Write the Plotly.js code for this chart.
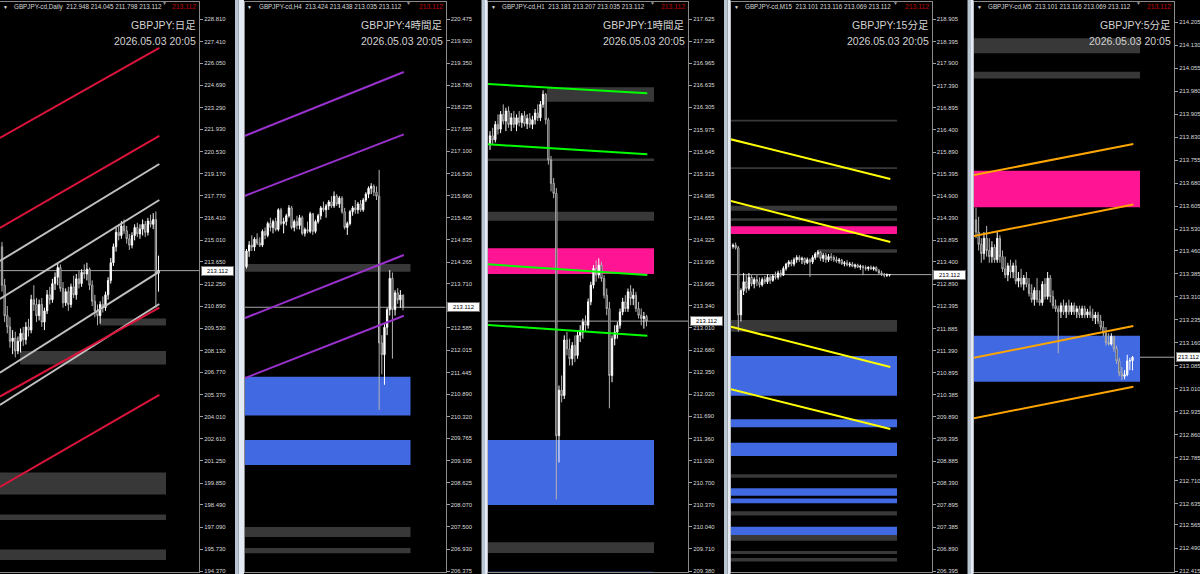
<!DOCTYPE html>
<html><head><meta charset="utf-8">
<script src="https://cdn.plot.ly/plotly-3.0.1.min.js"></script>
<style>html,body{margin:0;padding:0;background:#000;}#chart{width:1200px;height:574px;}</style>
</head><body><div id="chart"></div>
<script>
// ---------------- DATA ----------------
const tfHeader = ['GBPJPY-cd,Daily','GBPJPY-cd,H4','GBPJPY-cd,H1','GBPJPY-cd,M15','GBPJPY-cd,M5'];
const tfTitle = ['GBPJPY:日足','GBPJPY:4時間足','GBPJPY:1時間足','GBPJPY:15分足','GBPJPY:5分足'];
const timestamp = '2026.05.03 20:05';
const bidPrice = 213.112;
const lastOHLC = [[212.948,214.045,211.798,213.112],[213.424,213.438,213.035,213.112],[213.181,213.207,213.035,213.112],[213.101,213.116,213.069,213.112],[213.101,213.116,213.069,213.112]];

const p1Ticks = [228.810,227.410,226.050,224.690,223.290,221.930,220.530,219.170,217.770,216.410,215.010,213.650,212.250,210.890,209.530,208.130,206.770,205.370,204.010,202.610,201.250,199.850,198.490,197.090,195.730,194.370];
const p2Ticks = [220.475,219.920,219.350,218.780,218.225,217.655,217.100,216.530,215.960,215.405,214.835,214.265,213.710,212.585,212.015,211.445,210.890,210.320,209.765,209.195,208.625,208.070,207.500,206.930,206.375];
const p3Ticks = [217.625,217.295,216.965,216.635,216.305,215.975,215.645,215.315,214.985,214.655,214.325,213.995,213.665,213.340,213.010,212.680,212.350,212.020,211.690,211.360,211.030,210.700,210.370,210.040,209.710,209.380];
const p4Ticks = [218.905,218.395,217.900,217.390,216.895,216.400,215.890,215.395,214.900,214.390,213.895,213.400,212.890,212.395,211.885,211.390,210.895,210.385,209.890,209.395,208.885,208.390,207.895,207.385,206.890,206.395];
const p5Ticks = [214.205,214.130,214.055,213.980,213.905,213.830,213.755,213.680,213.605,213.530,213.460,213.385,213.310,213.235,213.160,213.085,213.010,212.935,212.860,212.785,212.710,212.635,212.565,212.490,212.415];

// Panel 1 (Daily)
const p1Open = [214.6,212.2,210.3,209.6,208.7,208.9,208.1,208.7,209.2,208.8,209.6,209.4,211.3,211.0,210.3,211.0,209.9,210.6,211.6,211.3,212.3,212.7,213.3,212.0,211.1,211.8,211.0,212.1,211.6,212.6,212.3,213.0,212.9,213.2,212.2,211.2,210.6,210.3,211.0,210.8,211.6,212.5,213.6,214.6,215.5,215.3,215.9,215.6,215.1,214.7,215.3,215.8,215.4,215.7,216.0,215.5,216.2,216.0,216.3,212.948];
const p1High = [214.9,212.6,210.9,210.2,209.4,209.3,209.0,209.5,209.6,209.9,210.1,211.6,212.2,211.4,211.3,211.4,210.8,211.9,212.1,212.6,213.0,213.6,213.5,212.4,212.0,212.1,212.3,212.8,212.9,213.1,213.2,213.5,213.6,213.3,212.5,211.6,211.0,211.2,211.5,211.8,212.7,213.9,214.8,215.8,216.0,216.2,216.3,215.9,215.4,215.5,216.0,216.1,216.0,216.3,216.2,216.4,216.6,216.7,216.8,214.045];
const p1Low = [211.8,209.9,209.2,208.3,207.9,207.7,207.9,208.0,208.4,208.5,209.0,209.2,210.6,209.9,210.0,209.6,209.4,210.4,211.0,211.1,211.9,212.2,211.8,210.8,210.9,210.6,210.8,211.4,211.3,212.0,212.1,212.6,212.5,211.9,210.9,210.2,209.7,209.8,210.5,210.6,211.3,212.3,213.4,214.3,215.0,215.1,215.4,214.8,214.4,214.5,215.0,215.2,215.1,215.3,215.2,215.3,215.8,215.7,210.8,211.798];
const p1Close = [212.2,210.3,209.6,208.7,208.9,208.1,208.7,209.2,208.8,209.6,209.4,211.3,211.0,210.3,211.0,209.9,210.6,211.6,211.3,212.3,212.7,213.3,212.0,211.1,211.8,211.0,212.1,211.6,212.6,212.3,213.0,212.9,213.2,212.2,211.2,210.6,210.3,211.0,210.8,211.6,212.5,213.6,214.6,215.5,215.3,215.9,215.6,215.1,214.7,215.3,215.8,215.4,215.7,216.0,215.5,216.2,216.0,216.3,212.95,213.112];

// Panel 2 (H4)
const p2Open = [214.15,214.55,214.7,214.65,214.85,214.75,214.7,215.05,214.95,215.25,215.15,215.3,215.1,215.6,215.25,215.3,215.45,215.65,215.15,215.3,215.2,215.4,215.0,215.1,215.05,215.5,215.05,215.3,215.45,215.65,215.6,215.7,215.8,215.7,215.95,215.75,215.9,215.55,215.15,215.25,215.55,215.65,215.6,215.75,215.6,215.85,216.0,216.15,216.2,216.05,215.95,212.2,211.9,212.6,213.05,213.85,213.05,213.48,213.3,213.424];
const p2High = [214.6,214.8,214.95,214.9,215.0,214.9,215.1,215.15,215.3,215.4,215.35,215.4,215.64,215.65,215.4,215.5,215.72,215.7,215.35,215.45,215.47,215.45,215.15,215.3,215.55,215.52,215.35,215.5,215.7,215.81,215.75,215.85,215.95,216.07,216.0,215.95,215.95,215.65,215.3,215.6,215.7,215.85,215.8,215.85,215.9,216.05,216.2,216.28,216.25,216.2,216.62,212.4,212.7,213.1,214.06,214.0,213.55,213.6,213.55,213.438];
const p2Low = [214.1,214.4,214.55,214.55,214.7,214.65,214.65,214.85,214.9,215.05,215.0,215.05,215.05,215.2,215.0,215.2,215.4,215.1,215.05,215.1,215.1,214.95,214.92,215.0,215.0,214.96,215.0,215.25,215.35,215.55,215.4,215.6,215.65,215.65,215.7,215.65,215.5,215.1,214.96,215.2,215.45,215.5,215.5,215.55,215.55,215.8,215.9,216.0,215.95,215.85,210.49,211.4,211.13,212.4,212.9,211.8,212.9,213.2,213.1,213.035];
const p2Close = [214.55,214.7,214.65,214.85,214.75,214.7,215.05,214.95,215.25,215.15,215.3,215.1,215.6,215.25,215.3,215.45,215.65,215.15,215.3,215.2,215.4,215.0,215.1,215.05,215.5,215.05,215.3,215.45,215.65,215.6,215.7,215.8,215.7,215.95,215.75,215.9,215.55,215.15,215.25,215.55,215.65,215.6,215.75,215.6,215.85,216.0,216.15,216.2,216.05,215.95,212.2,211.9,212.6,213.05,213.85,213.05,213.48,213.3,213.424,213.112];

// Panel 3 (H1)
const p3Open = [215.75,215.88,215.82,216.05,215.98,216.2,216.1,216.25,216.05,216.15,216.05,216.15,216.08,216.18,216.06,216.14,216.05,216.12,216.22,216.15,216.35,216.5,216.12,215.52,215.17,215.02,211.4,212.08,212.0,212.83,212.7,212.55,212.75,212.6,212.9,212.95,213.1,213.05,213.4,213.65,213.9,213.8,213.95,213.75,213.5,213.3,212.3,212.85,212.95,213.05,213.25,213.4,213.3,213.55,213.45,213.5,213.3,213.2,213.15,213.181];
const p3High = [215.95,216.0,216.1,216.2,216.25,216.35,216.3,216.32,216.22,216.25,216.2,216.25,216.22,216.25,216.2,216.22,216.18,216.28,216.35,216.4,216.56,216.52,216.15,215.58,215.25,215.1,212.15,212.3,212.9,212.95,212.85,212.8,212.9,212.95,213.05,213.15,213.2,213.45,213.7,213.95,214.02,214.05,214.0,213.8,213.6,213.4,212.9,213.05,213.1,213.3,213.46,213.5,213.6,213.65,213.6,213.55,213.4,213.3,213.25,213.207];
const p3Low = [215.67,215.75,215.78,215.9,215.92,216.05,215.95,216.0,215.95,216.0,215.95,216.02,216.0,216.02,215.98,216.0,215.98,216.05,216.1,216.1,216.3,216.05,215.45,215.05,214.95,210.45,211.0,211.9,211.95,212.6,212.45,212.45,212.5,212.55,212.8,212.85,212.95,213.0,213.35,213.6,213.7,213.75,213.7,213.45,213.2,211.81,212.2,212.75,212.85,213.0,213.2,213.25,213.25,213.35,213.35,213.25,213.15,213.05,213.0,213.035];
const p3Close = [215.88,215.82,216.05,215.98,216.2,216.1,216.25,216.05,216.15,216.05,216.15,216.08,216.18,216.06,216.14,216.05,216.12,216.22,216.15,216.35,216.5,216.12,215.52,215.17,215.02,211.4,212.08,212.0,212.83,212.7,212.55,212.75,212.6,212.9,212.95,213.1,213.05,213.4,213.65,213.9,213.8,213.95,213.75,213.5,213.3,212.3,212.85,212.95,213.05,213.25,213.4,213.3,213.55,213.45,213.5,213.3,213.2,213.15,213.181,213.112];

// Panel 4 (M15)
const p4Open = [213.75,213.78,213.72,212.2,212.75,212.95,212.8,213.05,212.9,213.0,212.95,212.88,213.0,212.95,213.05,212.98,213.08,213.05,213.15,213.1,213.25,213.35,213.4,213.35,213.45,213.5,213.45,213.48,213.38,213.45,213.4,213.5,213.58,213.62,213.48,213.55,213.45,213.52,213.5,213.45,213.42,213.44,213.36,213.38,213.33,213.35,213.3,213.33,213.28,213.3,213.27,213.25,213.28,213.24,213.27,213.2,213.15,213.12,213.1,213.101];
const p4High = [213.82,213.84,213.76,212.8,213.15,213.1,213.15,213.1,213.05,213.1,213.05,213.05,213.08,213.12,213.1,213.12,213.18,213.2,213.22,213.3,213.38,213.44,213.45,213.5,213.55,213.55,213.52,213.5,213.5,213.48,213.55,213.62,213.67,213.65,213.6,213.6,213.58,213.6,213.55,213.52,213.49,213.47,213.42,213.44,213.4,213.4,213.36,213.36,213.34,213.33,213.32,213.3,213.32,213.3,213.3,213.24,213.2,213.15,213.14,213.116];
const p4Low = [213.7,213.68,211.82,212.05,212.65,212.7,212.75,212.85,212.8,212.85,212.82,212.84,212.9,212.9,212.9,212.95,213.0,213.0,213.05,213.08,213.2,213.28,213.3,213.3,213.38,213.4,213.35,213.33,213.35,213.06,213.35,213.45,213.5,213.42,213.4,213.38,213.4,213.42,213.4,213.38,213.36,213.33,213.3,213.3,213.28,213.28,213.25,213.26,213.22,213.1,213.2,213.2,213.22,213.2,213.18,213.12,213.08,213.05,213.06,213.069];
const p4Close = [213.78,213.72,212.2,212.75,212.95,212.8,213.05,212.9,213.0,212.95,212.88,213.0,212.95,213.05,212.98,213.08,213.05,213.15,213.1,213.25,213.35,213.4,213.35,213.45,213.5,213.45,213.48,213.38,213.45,213.4,213.5,213.58,213.62,213.48,213.55,213.45,213.52,213.5,213.45,213.42,213.44,213.36,213.38,213.33,213.35,213.3,213.33,213.28,213.3,213.27,213.25,213.28,213.24,213.27,213.2,213.15,213.12,213.1,213.101,213.112];

// Panel 5 (M5)
const p5Open = [213.56,213.52,213.48,213.45,213.50,213.46,213.44,213.47,213.43,213.50,213.44,213.40,213.38,213.41,213.39,213.41,213.36,213.37,213.35,213.37,213.35,213.32,213.30,213.33,213.30,213.29,213.35,213.31,213.37,213.31,213.28,213.27,213.26,213.28,213.26,213.28,213.26,213.28,213.26,213.27,213.25,213.27,213.25,213.26,213.25,213.24,213.25,213.23,213.21,213.19,213.16,213.155,213.18,213.14,213.10,213.06,213.05,213.055,213.10,213.101];
const p5High = [213.60,213.57,213.50,213.52,213.54,213.50,213.49,213.48,213.52,213.51,213.46,213.44,213.42,213.43,213.42,213.43,213.39,213.40,213.38,213.39,213.37,213.35,213.34,213.37,213.33,213.36,213.37,213.39,213.38,213.33,213.30,213.28,213.29,213.30,213.29,213.30,213.29,213.29,213.28,213.28,213.28,213.28,213.27,213.28,213.27,213.26,213.26,213.25,213.23,213.21,213.19,213.19,213.18,213.15,213.11,213.08,213.07,213.12,213.11,213.116];
const p5Low = [213.50,213.46,213.42,213.43,213.44,213.42,213.42,213.42,213.42,213.42,213.39,213.37,213.36,213.37,213.37,213.35,213.34,213.34,213.33,213.34,213.31,213.29,213.28,213.29,213.28,213.28,213.30,213.30,213.29,213.27,213.26,213.125,213.24,213.25,213.24,213.25,213.25,213.25,213.24,213.24,213.24,213.24,213.24,213.24,213.23,213.22,213.22,213.20,213.18,213.15,213.15,213.15,213.13,213.09,213.05,213.038,213.04,213.05,213.07,213.069];
const p5Close = [213.52,213.48,213.45,213.50,213.46,213.44,213.47,213.43,213.50,213.44,213.40,213.38,213.41,213.39,213.41,213.36,213.37,213.35,213.37,213.35,213.32,213.30,213.33,213.30,213.29,213.35,213.31,213.37,213.31,213.28,213.27,213.26,213.28,213.26,213.28,213.26,213.28,213.26,213.27,213.25,213.27,213.25,213.26,213.25,213.24,213.25,213.23,213.21,213.19,213.16,213.155,213.18,213.14,213.10,213.06,213.05,213.055,213.10,213.101,213.112];

// Trend / channel lines: [barIndexStart, priceStart, barIndexEnd, priceEnd]
const p1RedLines = [[-0.8,221.386,59.3,227.001],[-0.8,215.771,59.3,221.511],[-0.8,205.252,59.3,210.798],[-0.8,199.612,59.3,205.352]];
const p1SilverLines = [[-0.8,213.712,59.3,219.764],[-0.8,211.341,59.3,217.518],[-0.8,206.743,59.3,213.045],[-0.8,204.728,59.3,211.03]];
const p2PurpleLines = [[-0.8,217.486,59.3,219.121],[-0.8,215.954,59.3,217.527],[-0.8,212.830,59.3,214.447],[-0.8,211.297,59.3,212.896]];
const p3GreenLines = [[-0.8,216.654,59.3,216.515],[-0.8,215.753,59.3,215.604],[-0.8,213.961,59.3,213.801],[-0.8,213.054,59.3,212.895]];
const p4YellowLines = [[-0.8,216.178,59.3,215.279],[-0.8,214.780,59.3,213.851],[-0.8,211.931,59.3,211.018],[-0.8,210.513,59.3,209.613]];
const p5OrangeLines = [[-0.8,213.706,59.3,213.807],[-0.8,213.507,59.3,213.610],[-0.8,213.110,59.3,213.214],[-0.8,212.913,59.3,213.016]];

// Zones: [startBarIndex or null (from left edge), upper price, lower price]
const p1GrayZones = [[36.9,210.12,209.69],[6.8,208.10,207.25],[null,200.516,199.144],[null,197.89,197.553],[null,195.713,195.057]];
const p2GrayZones = [[null,214.217,214.02],[null,207.499,207.244],[null,206.963,206.83]];
const p2BlueZones = [[null,211.338,210.35],[null,209.72,209.08]];
const p3GrayZones = [[21.5,216.605,216.39],[null,215.54,215.505],[null,214.747,214.612],[null,209.81,209.65]];
const p3PinkZones = [[null,214.20,213.816]];
const p3BlueZones = [[null,211.337,210.366],[null,209.37,209.2]];
const p4GrayZones = [[null,216.62,216.58],[null,215.544,215.505],[null,214.67,214.56],[null,214.39,214.33],[32,213.686,213.608],[null,212.083,211.818],[null,208.586,208.51],[null,207.75,207.65],[null,207.21,207.08],[null,206.85,206.78],[null,206.69,206.61]];
const p4PinkZones = [[null,214.21,214.03]];
const p4BlueZones = [[null,211.267,210.368],[null,209.833,209.651],[null,209.303,209.001],[null,208.27,208.10],[null,208.04,207.93],[null,207.40,207.21]];
const p5GrayZones = [[null,214.152,214.103],[null,214.043,214.021]];
const p5PinkZones = [[null,213.720,213.601]];
const p5BlueZones = [[null,213.182,213.032]];

// ---------------- LAYOUT / STYLE ----------------
const W = 1200, H = 574, MT = 2, MB = 2;
const PLOT_TOP = MT, PLOT_BOT = H - MB;
const panelLeft = [0, 244.5, 488, 731, 974];
const panelRight = [199, 445.5, 688, 931.5, 1174];
const tickTopPx = [19, 19, 19, 19, 22];
const tickBotPx = [571, 571, 571, 571, 571];
const bidBoxWidth = [31, 31, 31, 31, 23];
const BAR_STEP = 2.653, FIRST_BAR_PX = 2, ZONE_END_PX = 166;
const GRAY = '#383838', BLUE = '#4169e1', PINK = '#ff1493';
const LABEL_FONT = 'Liberation Sans, Arial, sans-serif';
const TITLE_FONT = 'Liberation Sans, Noto Sans CJK JP, sans-serif';

const panels = [
  {o:p1Open,h:p1High,l:p1Low,c:p1Close,ticks:p1Ticks,lines:[[p1SilverLines,'#c0c0c0'],[p1RedLines,'#dc143c']],zones:[[p1GrayZones,GRAY]]},
  {o:p2Open,h:p2High,l:p2Low,c:p2Close,ticks:p2Ticks,lines:[[p2PurpleLines,'#9932cc']],zones:[[p2GrayZones,GRAY],[p2BlueZones,BLUE]]},
  {o:p3Open,h:p3High,l:p3Low,c:p3Close,ticks:p3Ticks,lines:[[p3GreenLines,'#00ff00']],zones:[[p3GrayZones,GRAY],[p3PinkZones,PINK],[p3BlueZones,BLUE]]},
  {o:p4Open,h:p4High,l:p4Low,c:p4Close,ticks:p4Ticks,lines:[[p4YellowLines,'#ffff00']],zones:[[p4GrayZones,GRAY],[p4PinkZones,PINK],[p4BlueZones,BLUE]]},
  {o:p5Open,h:p5High,l:p5Low,c:p5Close,ticks:p5Ticks,lines:[[p5OrangeLines,'#ffa500']],zones:[[p5GrayZones,GRAY],[p5PinkZones,PINK],[p5BlueZones,BLUE]]}
];

const py = px => (PLOT_BOT - px) / (PLOT_BOT - PLOT_TOP);   // pixel y -> paper y
const pxX = px => px / W;                                    // pixel x -> paper x

const traces = [], shapes = [], annotations = [];
const layout = {
  width: W, height: H, margin: {l:0, r:0, t:MT, b:MB},
  paper_bgcolor: '#000000', plot_bgcolor: '#000000',
  showlegend: false, dragmode: false, shapes, annotations
};

panels.forEach((p, k) => {
  const n = k + 1, sfx = n === 1 ? '' : String(n);
  const xa = 'x' + sfx, ya = 'y' + sfx;
  const L = panelLeft[k], R = panelRight[k];
  const xRange = [-FIRST_BAR_PX / BAR_STEP, (R - L - FIRST_BAR_PX) / BAR_STEP];
  const zoneEnd = (ZONE_END_PX - FIRST_BAR_PX) / BAR_STEP;
  const vt = p.ticks[0], vb = p.ticks[p.ticks.length - 1];
  const upp = (vt - vb) / (tickBotPx[k] - tickTopPx[k]);
  const yRange = [vb - (PLOT_BOT - tickBotPx[k]) * upp, vt + (tickTopPx[k] - PLOT_TOP) * upp];

  layout['xaxis' + sfx] = {
    domain: [pxX(L), pxX(R)], range: xRange, anchor: ya,
    showgrid: false, zeroline: false, showticklabels: false, ticks: '',
    showline: true, mirror: true, linecolor: '#8a8a8a', linewidth: 1,
    rangeslider: {visible: false}, fixedrange: true
  };
  layout['yaxis' + sfx] = {
    domain: [0, 1], range: yRange, anchor: xa, side: 'right',
    tickmode: 'array', tickvals: p.ticks, ticktext: p.ticks.map(v => v.toFixed(3)),
    ticks: 'outside', ticklen: 3, tickcolor: '#a0a0a0', ticklabeloverflow: 'allow',
    tickfont: {family: LABEL_FONT, size: 5.9, color: '#dcdcdc'},
    showgrid: false, zeroline: false,
    showline: true, mirror: true, linecolor: '#8a8a8a', linewidth: 1, fixedrange: true
  };

  // zones
  p.zones.forEach(([list, col]) => list.forEach(([start, hi, lo]) => {
    shapes.push({type:'rect', xref: xa, yref: ya, layer:'below',
      x0: start === null ? xRange[0] : start, x1: zoneEnd, y0: lo, y1: hi,
      fillcolor: col, line: {width: 0}});
  }));
  // bid line
  shapes.push({type:'line', xref: xa + ' domain', yref: ya, layer:'below',
    x0: 0, x1: 1, y0: bidPrice, y1: bidPrice, line: {color:'#a8a8a8', width: 1}});

  // candles
  traces.push({
    type: 'candlestick', xaxis: xa, yaxis: ya,
    x: p.c.map((_, i) => i), open: p.o, high: p.h, low: p.l, close: p.c,
    increasing: {line: {color:'#ffffff', width: 1}, fillcolor: '#ffffff'},
    decreasing: {line: {color:'#b4b4b4', width: 1}, fillcolor: '#000000'},
    whiskerwidth: 0, hoverinfo: 'skip', showlegend: false
  });
  // channel lines
  p.lines.forEach(([list, col]) => list.forEach(([x0, y0, x1, y1]) => {
    traces.push({type:'scatter', mode:'lines', xaxis: xa, yaxis: ya,
      x: [x0, x1], y: [y0, y1], line: {color: col, width: 2}, hoverinfo:'skip', showlegend:false});
  }));

  // header texts
  const hdrY = py(6.5);
  annotations.push({xref:'paper', yref:'paper', x: pxX(L + 5), y: hdrY, xanchor:'center', yanchor:'middle',
    text:'▼', showarrow:false, font:{family: LABEL_FONT, size: 5, color:'#e0e0e0'}});
  annotations.push({xref:'paper', yref:'paper', x: pxX(L + 12), y: hdrY, xanchor:'left', yanchor:'middle',
    text: tfHeader[k] + '  ' + lastOHLC[k].map(v => v.toFixed(3)).join(' '), showarrow:false,
    font:{family: LABEL_FONT, size: 6.3, color:'#d8d8d8'}});
  annotations.push({xref:'paper', yref:'paper', x: pxX(R - 1), y: hdrY, xanchor:'right', yanchor:'middle',
    text: lastOHLC[k][3].toFixed(3), showarrow:false, font:{family: LABEL_FONT, size: 6.8, color:'#c00000'}});
  annotations.push({xref:'paper', yref:'paper', x: pxX(L + 164), y: py(3), xanchor:'center', yanchor:'middle',
    text:'▼', showarrow:false, font:{family: LABEL_FONT, size: 5, color:'#9a9a9a'}});
  // titles
  annotations.push({xref:'paper', yref:'paper', x: pxX(R - 1), y: py(25), xanchor:'right', yanchor:'middle',
    text: tfTitle[k], showarrow:false, font:{family: TITLE_FONT, size: 10.5, color:'#d2d2d2'}});
  annotations.push({xref:'paper', yref:'paper', x: pxX(R - 1), y: py(41), xanchor:'right', yanchor:'middle',
    text: timestamp, showarrow:false, font:{family: TITLE_FONT, size: 10.5, color:'#d2d2d2'}});
  // bid price box
  annotations.push({xref:'paper', yref: ya, x: pxX(R + 1.5), y: bidPrice, xanchor:'left', yanchor:'middle',
    text: bidPrice.toFixed(3), showarrow:false, bgcolor:'#ffffff', bordercolor:'#707070', borderwidth:1,
    borderpad: 0, width: bidBoxWidth[k], height: 8, font:{family: LABEL_FONT, size: 5.9, color:'#000000'}});

  // window frame between panels
  if (k < panels.length - 1) {
    const nextL = panelLeft[k + 1];
    shapes.push({type:'rect', xref:'paper', yref:'paper', x0: pxX(R + 36), x1: pxX(R + 39.5), y0: -0.01, y1: 1.01,
      fillcolor:'#b9c4d2', line:{width:0}, layer:'above'});
    shapes.push({type:'rect', xref:'paper', yref:'paper', x0: pxX(R + 39.5), x1: pxX(nextL - 0.5), y0: -0.01, y1: 1.01,
      fillcolor:'#e4ebf4', line:{width:0}, layer:'above'});
  }
});

Plotly.newPlot('chart', traces, layout, {staticPlot: true, displayModeBar: false});
</script>
</body></html>
